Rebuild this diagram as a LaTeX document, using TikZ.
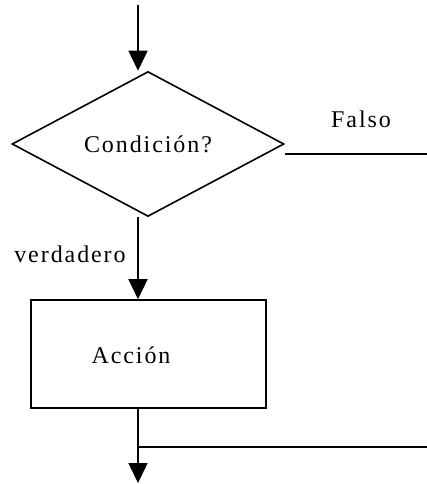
\documentclass[tikz,border=0pt]{standalone}
\usepackage{fontspec}
\setmainfont{Liberation Serif}
\usetikzlibrary{shapes.geometric,arrows.meta}

\begin{document}
\begin{tikzpicture}[x=1pt,y=-1pt,
  line width=1.6pt,
  txt/.style={font=\fontsize{24}{26}\selectfont\addfontfeature{LetterSpace=8}, inner sep=0},
  arr/.style={-{Triangle[length=20pt,width=19pt]}},
]
\useasboundingbox (0,0) rectangle (427,484);
\node[draw, diamond, minimum width=272pt, minimum height=128pt, inner sep=0, txt] (cond) at (148,144) {Condición?};
\node[draw, minimum width=235pt, minimum height=108pt, inner sep=0] (accion) at (148.5,354) {};
\node[txt, anchor=base] (accionlbl) at (131,363) {Acción};
\node[txt, anchor=base] (verd) at (70,262) {verdadero};
\node[txt, anchor=base] (falso) at (361,128) {Falso};

\coordinate (start) at (138,5);
\coordinate (falsoend) at (427,154);
\coordinate (finish) at (138,483);
\coordinate (join) at (138,447);
\coordinate (joinend) at (427,447);

\draw[arr] (start) -- (cond.north -| start);
\draw[arr] (cond.south -| start) -- (accion.north -| start);
\draw (cond.east |- falsoend) -- (falsoend);
\draw[arr] (accion.south -| start) -- (finish);
\draw (joinend) -- (join);
\end{tikzpicture}
\end{document}
